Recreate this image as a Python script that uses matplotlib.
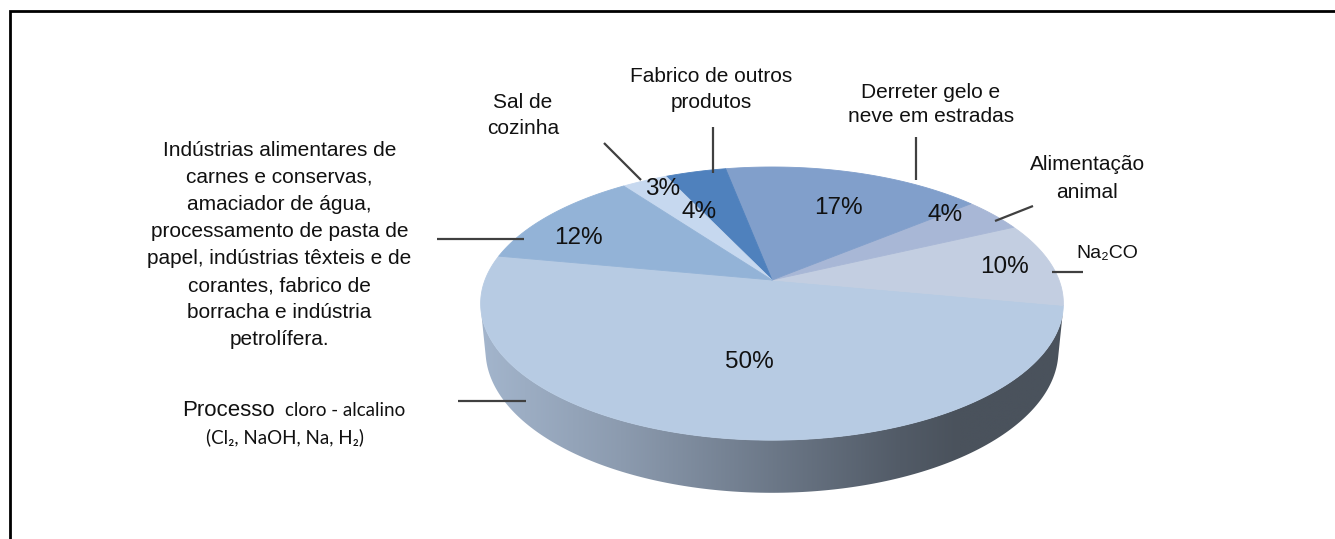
import numpy as np
import matplotlib
matplotlib.use("Agg")
import matplotlib.pyplot as plt
from matplotlib.patches import Polygon
from matplotlib.colors import LinearSegmentedColormap

# ---------------- data (counter-clockwise, starting with the front slice) -------------
labels = [
    "Processo cloro - alcalino (Cl2, NaOH, Na, H2)",
    "Na2CO",
    "Alimentação animal",
    "Derreter gelo e neve em estradas",
    "Fabrico de outros produtos",
    "Sal de cozinha",
    "Indústrias alimentares de carnes e conservas, amaciador de água, processamento de pasta de papel, indústrias têxteis e de corantes, fabrico de borracha e indústria petrolífera.",
]
values = [50, 10, 4, 17, 4, 3, 12]
colors = ["#B7CBE3", "#C3CEE1", "#A8B7D6", "#819FCB", "#4F81BD", "#C6D8EF", "#93B3D7"]

# ---------------- figure ----------------
W, H = 1335, 539
fig = plt.figure(figsize=(W / 100, H / 100), dpi=100)
ax = fig.add_axes([0, 0, 1, 1])
ax.set_xlim(0, W)
ax.set_ylim(H, 0)
ax.axis("off")

# ---------------- 3D pie projection ----------------
CX, CY = 772, 280
S = 287
ALPHA = np.radians(27.5)
D0 = 5.14
DEPTH = 0.185
START = np.radians(169.3)


def proj(phi, z=0.0, r=1.0):
    x = r * np.cos(phi)
    y = r * np.sin(phi)
    D = D0 + y * np.cos(ALPHA) - z * np.sin(ALPHA)
    v = y * np.sin(ALPHA) + z * np.cos(ALPHA)
    return CX + S * x * D0 / D, CY - S * v * D0 / D


# visible side range (tangent points seen from the camera)
yc = D0 * np.cos(ALPHA)
phi_sil = np.arcsin(1 / yc)
vis0 = np.pi + phi_sil          # left silhouette
vis1 = 2 * np.pi - phi_sil      # right silhouette

total = float(sum(values))
bounds = START + np.concatenate([[0], np.cumsum(values)]) / total * 2 * np.pi

# side walls
side_cmap = LinearSegmentedColormap.from_list(
    "side",
    [(0.0, "#A3B5CC"), (0.24, "#8C9BAF"), (0.5, "#6C7888"),
     (0.72, "#525B67"), (0.82, "#4A525C"), (1.0, "#4A525C")])
for a0, a1 in zip(bounds[:-1], bounds[1:]):
    for shift in (0, 2 * np.pi, -2 * np.pi):
        s0 = max(a0, vis0 + shift)
        s1 = min(a1, vis1 + shift)
        if s1 > s0:
            t = np.linspace(s0, s1, 200)
            tx, ty = proj(t, 0.0)
            bx, by = proj(t[::-1], -DEPTH)
            pts = np.column_stack([np.concatenate([tx, bx]), np.concatenate([ty, by])])
            poly = Polygon(pts, closed=True, facecolor="none", edgecolor="none")
            ax.add_patch(poly)
            xmin, xmax = pts[:, 0].min(), pts[:, 0].max()
            ymin, ymax = pts[:, 1].min(), pts[:, 1].max()
            grad = np.linspace(0, 1, 256)[None, :]
            im = ax.imshow(grad, cmap=side_cmap, extent=[xmin, xmax, ymax, ymin],
                           aspect="auto", interpolation="bilinear", zorder=1)
            im.set_clip_path(poly)

# top faces
for a0, a1, c in zip(bounds[:-1], bounds[1:], colors):
    t = np.linspace(a0, a1, max(int((a1 - a0) * 80), 10))
    px, py = proj(t)
    pts = np.column_stack([np.concatenate([[CX], px]), np.concatenate([[CY], py])])
    ax.add_patch(Polygon(pts, closed=True, facecolor=c, edgecolor=c, lw=0.6,
                         joinstyle="round", zorder=2))

# ---------------- percentage labels ----------------
pct_pos = [(749, 362), (1004, 267), (945, 215), (838, 208), (699, 212), (663, 189), (578, 238)]
for v, (x, y) in zip(values, pct_pos):
    ax.text(x, y, f"{v}%", fontsize=17.5, family="Liberation Sans", color="#111111",
            ha="center", va="center", zorder=5)

# ---------------- category labels ----------------
LBL = dict(fontsize=15, family=["Liberation Sans", "DejaVu Sans"], color="#111111",
           ha="center", va="center", zorder=5)
lead = dict(color="#404040", lw=1.6, solid_capstyle="butt", zorder=4)

# Indústrias ...
ind_lines = ["Indústrias alimentares de", "carnes e conservas,", "amaciador de água,",
             "processamento de pasta de", "papel, indústrias têxteis e de",
             "corantes, fabrico de", "borracha e indústria", "petrolífera."]
for i, ln in enumerate(ind_lines):
    ax.text(279.5, 150 + i * 27.1, ln, **LBL)
ax.plot([437, 524], [238.5, 238.5], **lead)

# Sal de cozinha
ax.text(523, 102, "Sal de", **LBL)
ax.text(523, 129, "cozinha", **LBL)
ax.plot([604, 641], [143, 180], **lead)

# Fabrico de outros produtos
ax.text(711, 77, "Fabrico de outros", **LBL)
ax.text(711, 103, "produtos", **LBL)
ax.plot([713, 713], [127, 173], **lead)

# Derreter gelo e neve em estradas
ax.text(931, 92, "Derreter gelo e", **LBL)
ax.text(931, 117, "neve em estradas", **LBL)
ax.plot([916, 916], [137, 180], **lead)

# Alimentação animal
ax.text(1088, 165, "Alimentação", **LBL)
ax.text(1087, 192, "animal", **LBL)
ax.plot([1033, 995], [206, 221], **lead)

# Na2CO
ax.text(1076, 253, "Na\u2082CO", fontsize=14, family=["Liberation Sans", "DejaVu Sans"],
        color="#111111", ha="left", va="center", zorder=5)
ax.plot([1052, 1083], [272, 272], **lead)

# Processo cloro - alcalino
ax.text(182, 410, "Processo", fontsize=16, family="Liberation Sans", color="#111111",
        ha="left", va="center", zorder=5)
ax.text(285, 411, "cloro - alcalino", fontsize=13.5, family=["Lato", "DejaVu Sans"],
        color="#111111", ha="left", va="center", zorder=5)
ax.text(284.5, 437, "(Cl\u2082, NaOH, Na, H\u2082)", fontsize=13.5, family=["Lato", "DejaVu Sans"],
        color="#111111", ha="center", va="center", zorder=5)
ax.plot([458, 526], [400.5, 400.5], **lead)

# ---------------- frame ----------------
ax.plot([9.5, 9.5, W + 5], [H + 5, 11.3, 11.3], color="black", lw=2.0,
        solid_joinstyle="miter", zorder=6)

fig.savefig("out.png", dpi=100)
